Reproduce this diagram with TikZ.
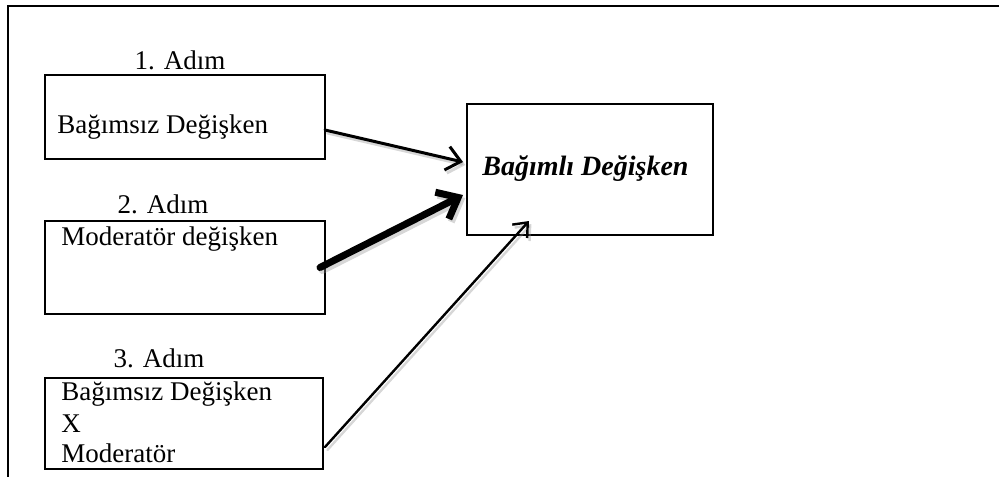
\documentclass[tikz,border=0pt]{standalone}
\usepackage{fontspec}
\setmainfont{Liberation Serif}
\usetikzlibrary{arrows.meta,calc}
\begin{document}
\begin{tikzpicture}[x=0.5pt,y=-0.5pt,
  box/.style={draw=black,line width=1pt,inner sep=0pt,outer sep=0pt},
  txt/.style={inner sep=0pt,font=\fontsize{13.5}{16}\selectfont},
  link/.style={draw=black,line cap=round},
  shade/.style={draw=black!45,opacity=0.35,line cap=round,transform canvas={shift={(1.2pt,-1.5pt)}}}
]
\useasboundingbox (0,0) rectangle (1000,477);

% outer frame (top and left edges)
\coordinate (ftl) at (8,6);
\coordinate (ftr) at (999,6);
\coordinate (fbl) at (8,477);
\draw[line width=1pt] (ftr) -- (ftl) -- (fbl);

% boxes
\node[box,minimum width=140pt,minimum height=42pt] (b1) at (185,117) {};
\node[box,line width=0.8pt,minimum width=140pt,minimum height=46.5pt] (b2) at (185,267.5) {};
\node[box,minimum width=139pt,minimum height=45.5pt] (b3) at (184,423) {};
\node[box,minimum width=123pt,minimum height=65.5pt] (dv) at (590,169.5) {};

% step labels
\node[txt,anchor=base] (s1) at (180,69) {1. Adım};
\node[txt,anchor=base] (s2) at (163,213) {2. Adım};
\node[txt,anchor=base] (s3) at (159,367) {3. Adım};

% box texts
\node[txt,anchor=base west] (t1) at (57,133) {Bağımsız Değişken};
\node[txt,anchor=base west] (t2) at (61,245) {Moderatör değişken};
\node[txt,anchor=base west] (t3a) at (61,400) {Bağımsız Değişken};
\node[txt,anchor=base west] (t3b) at (61,432) {X};
\node[txt,anchor=base west] (t3c) at (61,462) {Moderatör};
\node[txt,anchor=base west,font=\fontsize{14}{16}\selectfont\bfseries\itshape] (tdv) at (482,175) {Bağımlı Değişken};

% connector end points
\coordinate (a1s) at ($(b1.east)+(0,13)$);
\coordinate (a1e) at ($(dv.west)+(-4,-7.5)$);
\coordinate (a2s) at ($(b2.east)+(-5,0)$);
\coordinate (a2e) at ($(dv.west)+(-4,25.5)$);
\coordinate (a3s) at ($(b3.east)+(2,24)$);
\coordinate (a3e) at ($(dv.south)+(-61,-14)$);

% soft shadows under arrows
\draw[shade,line width=1.5pt,-{Straight Barb[length=7pt,width=12pt]}] (a1s) -- (a1e);
\draw[shade,line width=3.5pt,-{Straight Barb[length=9pt,width=15pt]}] (a2s) -- (a2e);
\draw[shade,line width=1.2pt,-{Straight Barb[length=6pt,width=10pt]}] (a3s) -- (a3e);

% arrows
\draw[link,line width=1.5pt,-{Straight Barb[length=7pt,width=12pt]}] (a1s) -- (a1e);
\draw[link,line width=3.5pt,-{Straight Barb[length=9pt,width=15pt]}] (a2s) -- (a2e);
\draw[link,line width=1.2pt,-{Straight Barb[length=6pt,width=10pt]}] (a3s) -- (a3e);
\end{tikzpicture}
\end{document}
